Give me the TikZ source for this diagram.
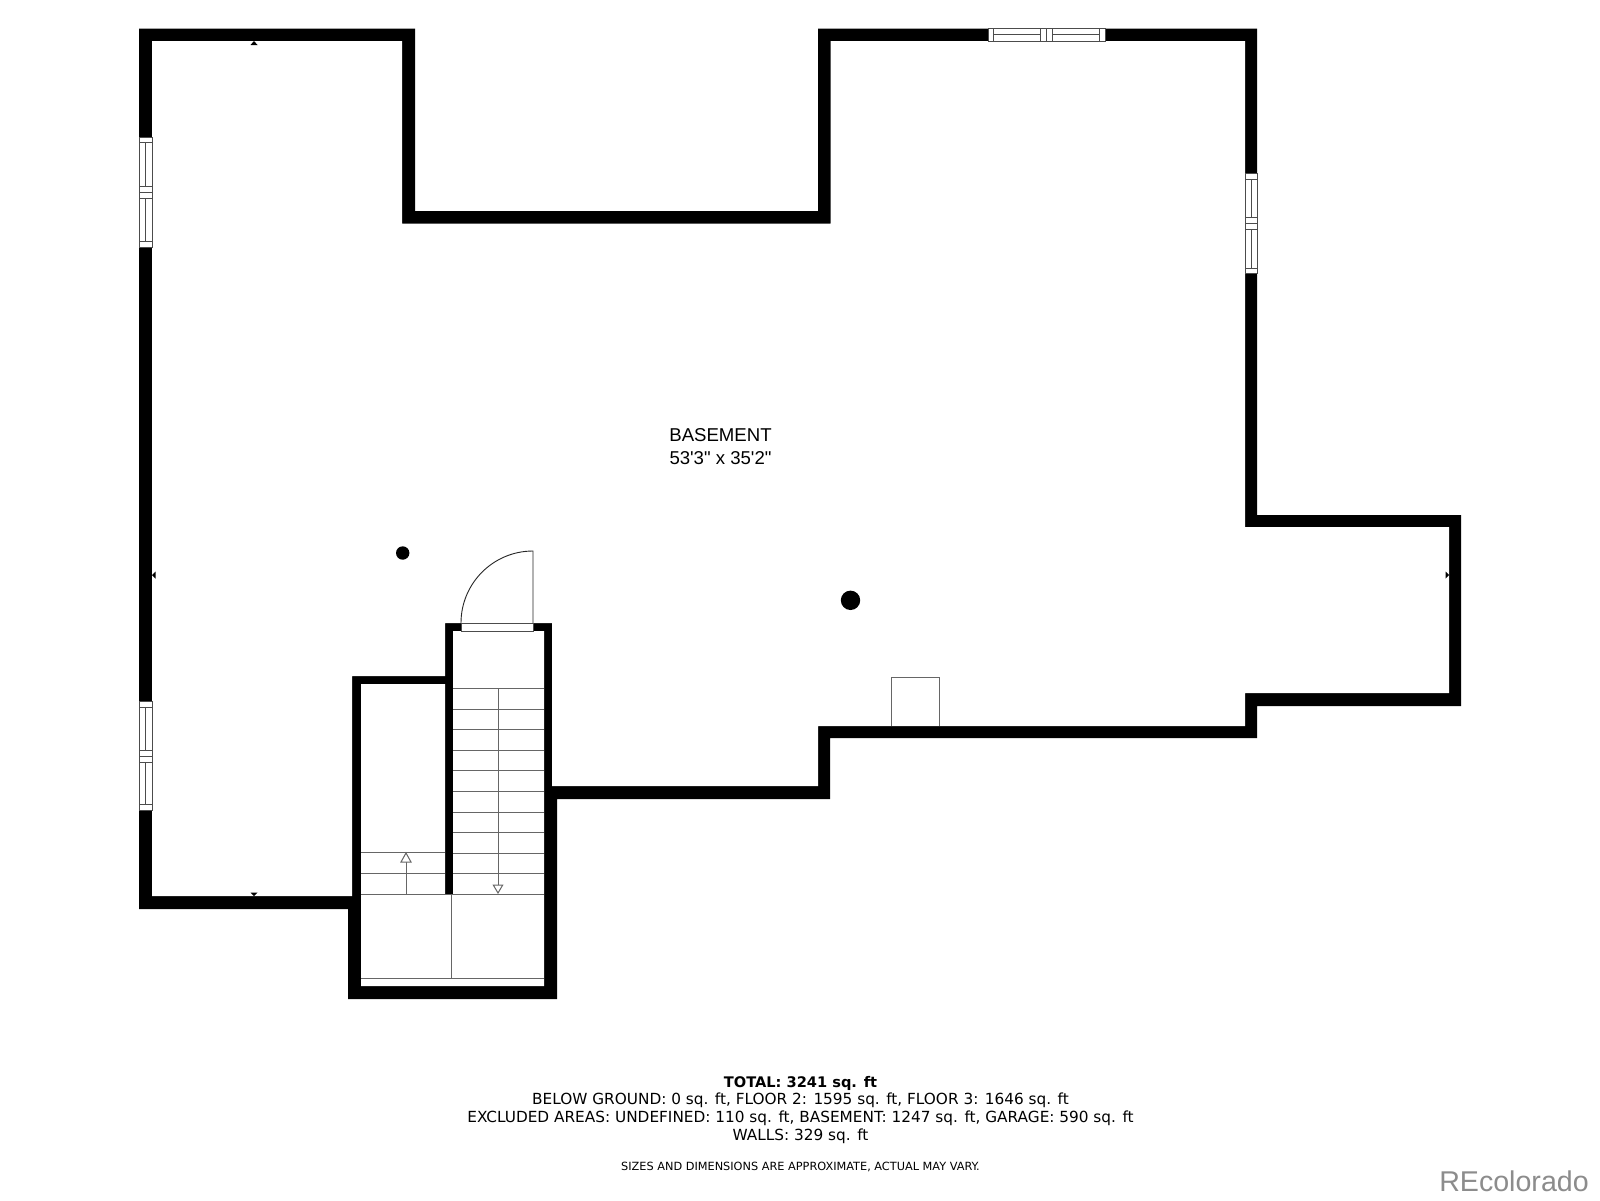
\documentclass[tikz,border=0pt]{standalone}
\usepackage{fontspec}
\setmainfont[Ligatures=TeXOff]{Liberation Sans}
\newfontfamily\tah{DejaVu Sans}
\tikzset{
  x=1pt,y=-1pt,
  thin line/.style={line width=1pt,draw=black!60},
  fine line/.style={line width=0.9pt,draw=black!85},
  opening/.style={fill=white,line width=0.8pt,draw=black!70},
  tick mark/.style={fill=black,draw=none},
  label text/.style={font=\fontsize{18.6}{22}\selectfont,text=black,inner sep=0pt,align=center},
  foot text/.style={font=\tah\fontsize{15.3}{18}\selectfont,inner sep=0pt,text=black},
}
\begin{document}
\begin{tikzpicture}
\useasboundingbox (0,0) rectangle (1600,1200);
\fill[white] (0,0) rectangle (1600,1200);
% walls
\fill[black] (139,28.5)--(415,28.5)--(415,211)--(818,211)--(818,28.5)--(1257,28.5)--(1257,515)--(1461,515)--(1461,706)--(1257,706)--(1257,738)--(830,738)--(830,799)--(557,799)--(557,999)--(348,999)--(348,909)--(139,909)--cycle;
\fill[white] (152,41)--(402,41)--(402,223.5)--(830.5,223.5)--(830.5,41)--(1245,41)--(1245,527)--(1449,527)--(1449,693)--(1245,693)--(1245,726)--(818,726)--(818,786)--(552,786)--(552,623)--(445,623)--(445,676)--(352,676)--(352,896)--(152,896)--cycle;
\fill[white] (361,684)--(445,684)--(445,894)--(453,894)--(453,631)--(544,631)--(544,986)--(361,986)--cycle;
% top window
\draw[opening] (988,28.5) rectangle (1105,41);
\draw[opening] (993,28.5) rectangle (1040,41);
\draw[opening] (1052,28.5) rectangle (1099,41);
\draw[opening] (1046,28.5)--(1046,41);
\draw[opening] (993,34.5)--(1040,34.5) (1052,34.5)--(1099,34.5);
% right window
\draw[opening] (1245,173) rectangle (1257,273);
\draw[opening] (1245,179) rectangle (1257,217);
\draw[opening] (1245,229) rectangle (1257,268);
\draw[opening] (1245,223)--(1257,223);
\draw[opening] (1251,179)--(1251,217) (1251,229)--(1251,268);
% left window 1
\draw[opening] (139,137) rectangle (152,247);
\draw[opening] (139,142.7) rectangle (152,186);
\draw[opening] (139,198) rectangle (152,241);
\draw[opening] (139,192)--(152,192);
\draw[opening] (145.5,142.7)--(145.5,186) (145.5,198)--(145.5,241);
% left window 2
\draw[opening] (139,701) rectangle (152,810);
\draw[opening] (139,707) rectangle (152,750);
\draw[opening] (139,762) rectangle (152,804);
\draw[opening] (139,756)--(152,756);
\draw[opening] (145.5,707)--(145.5,750) (145.5,762)--(145.5,804);
% door
\draw[opening] (461,623) rectangle (533,631);
\draw[fine line] (461,623) arc[start angle=180,end angle=270,radius=72] -- (533,623);
% stairs
\foreach \y in {688.3,709,729.5,750,770.5,791,812,832.5,853,873.5}
  \draw[thin line] (453,\y)--(544,\y);
\foreach \y in {852.7,873.3}
  \draw[thin line] (361,\y)--(445,\y);
\draw[thin line] (361,894)--(544,894);
\draw[thin line] (361,978)--(544,978);
\draw[thin line] (451.7,894)--(451.7,978);
\draw[thin line] (498,688)--(498,893);
\draw[thin line,fill=white] (498,893)--(493.3,885)--(502.7,885)--cycle;
\draw[thin line] (406,894)--(406,853);
\draw[thin line,fill=white] (406,853)--(401,862)--(411,862)--cycle;
% columns
\fill[black] (402.7,553) circle[radius=6.7];
\fill[black] (850.5,600.3) circle[radius=9.7];
% box
\draw[thin line] (891,726)--(891,677.7)--(939.3,677.7)--(939.3,726);
% tick marks
\fill[tick mark] (254,41)--(250.5,45)--(257.5,45)--cycle;
\fill[tick mark] (254,896)--(250.5,892.7)--(257.5,892.7)--cycle;
\fill[tick mark] (152,575)--(155.5,571.5)--(155.5,578.5)--cycle;
\fill[tick mark] (1449,575)--(1445.5,571.5)--(1445.5,578.5)--cycle;
% labels
\node[label text] (room) at (720.5,435.5) {BASEMENT};
\node[label text] (dims) at (720.5,458) {53'3" x 35'2"};
\node[foot text,font=\tah\bfseries\fontsize{14.6}{18}\selectfont] (total) at (800.5,1083) {TOTAL: 3241 sq. ft};
\node[foot text] (l1) at (800.5,1100.5) {BELOW GROUND: 0 sq. ft, FLOOR 2: 1595 sq. ft, FLOOR 3: 1646 sq. ft};
\node[foot text] (l2) at (800.5,1118.5) {EXCLUDED AREAS: UNDEFINED: 110 sq. ft, BASEMENT: 1247 sq. ft, GARAGE: 590 sq. ft};
\node[foot text] (l3) at (800.5,1136) {WALLS: 329 sq. ft};
\node[foot text,font=\tah\fontsize{11.3}{14}\selectfont] (note) at (800.5,1166.5) {SIZES AND DIMENSIONS ARE APPROXIMATE, ACTUAL MAY VARY.};
\node[inner sep=0pt,text=black!45,font=\fontsize{28.6}{32}\selectfont] (brand) at (1514,1181) {REcolorado};
\end{tikzpicture}
\end{document}
